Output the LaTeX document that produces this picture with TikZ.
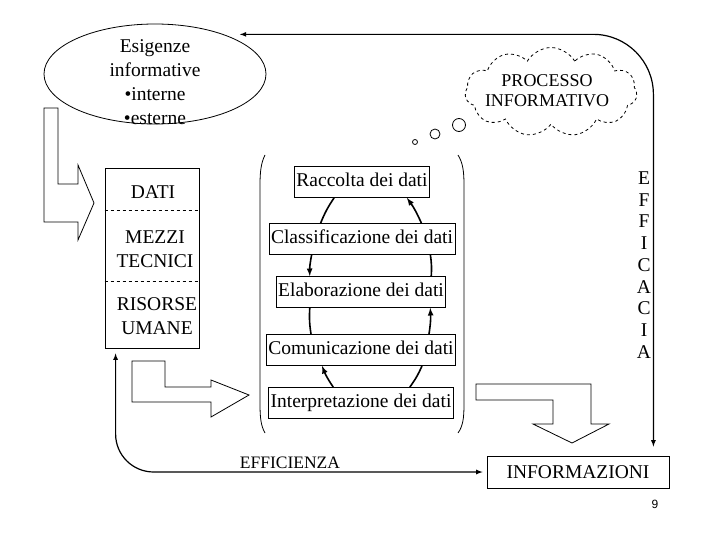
\documentclass[tikz,border=0pt]{standalone}
\usepackage{fontspec}
\setmainfont{Liberation Serif}
\newfontfamily\pagefont{Liberation Sans}
\usetikzlibrary{arrows,shapes.geometric,shapes.symbols}

\begin{document}
\begin{tikzpicture}[x=1pt,y=-1pt,line width=0.8pt,
  stagebox/.style={draw,inner xsep=2pt,inner ysep=0pt,text height=14pt,text depth=4.5pt,minimum height=31pt,font=\fontsize{19.5}{23}\selectfont},
  big/.style={align=center,font=\fontsize{19.5}{24}\selectfont},
  hollow/.style={draw,line join=miter},
  flow/.style={line width=1.6pt}]
  \useasboundingbox (0,0) rectangle (720,540);
  % esigenze e processo
  \node[draw,ellipse,minimum width=222pt,minimum height=100pt] (need) at (155,74) {};
  \node[big] (needtxt) at (155,82) {Esigenze\\informative\\\textbullet interne\\\textbullet esterne};
  \node[draw,dashed,cloud,cloud puffs=11,cloud puff arc=120,aspect=1.9,minimum width=172pt,minimum height=89pt] (cloud) at (551,92) {};
  \node[align=center,font=\fontsize{18}{20}\selectfont] (proc) at (547,91) {PROCESSO\\INFORMATIVO};
  \draw (459,125) circle[radius=6.5pt];
  \draw (435,134) circle[radius=5pt];
  \draw (415,142) circle[radius=2.5pt];
  % risorse
  \node[draw,minimum width=94pt,minimum height=180pt] (res) at (152,258) {};
  \draw[dashed] ([yshift=-43pt]res.north west) -- ([yshift=-43pt]res.north east);
  \draw[dashed] ([yshift=-114pt]res.north west) -- ([yshift=-114pt]res.north east);
  \node[big] (dati) at (153,192) {DATI};
  \node[big] (mezzi) at (155,249) {MEZZI\\TECNICI};
  \node[big] (risorse) at (157,316) {RISORSE\\UMANE};
  % fasi
  \node[stagebox] (racc) at (362,182) {Raccolta dei dati};
  \node[stagebox] (class) at (362,239) {Classificazione dei dati};
  \node[stagebox] (elab) at (361,292) {Elaborazione dei dati};
  \node[stagebox] (comm) at (361,350) {Comunicazione dei dati};
  \node[stagebox] (interp) at (361,403) {Interpretazione dei dati};
  \draw (265,155) .. controls (261,163) and (260,172) .. (260,185) -- (260,404) .. controls (260,418) and (261,426) .. (265,433);
  \draw (458,155) .. controls (463,163) and (464,172) .. (464,185) -- (464,404) .. controls (464,418) and (463,426) .. (458,433);
  \draw[flow] ([xshift=40pt]racc.south west) to[bend right=6] ([xshift=52pt]class.north west);
  \draw[flow,-latex] ([xshift=43pt]class.south west) to[bend right=6] ([xshift=34pt]elab.north west);
  \draw[flow] ([xshift=34pt]elab.south west) to[bend right=6] ([xshift=45pt]comm.north west);
  \draw[flow,-latex] ([xshift=65pt]interp.north west) to[bend left=6] ([xshift=56pt]comm.south west);
  \draw[flow] ([xshift=-44pt]interp.north east) to[bend right=6] ([xshift=-34pt]comm.south east);
  \draw[flow,-latex] ([xshift=-27pt]comm.north east) to[bend right=6] ([xshift=-16pt]elab.south east);
  \draw[flow] ([xshift=-15pt]elab.north east) to[bend right=6] ([xshift=-25pt]class.south east);
  \draw[flow,-latex] ([xshift=-34pt]class.north east) to[bend right=6] ([xshift=-23pt]racc.south east);
  % frecce vuote
  \draw[hollow] (44,108) -- (58,108) -- (58,184) -- (78,184) -- (78,165) -- (94,203) -- (78,240) -- (78,222) -- (44,222) -- cycle;
  \draw[hollow] (132,361) -- (165,361) -- (165,387) -- (211,387) -- (211,380) -- (249,395) -- (211,417) -- (211,402) -- (132,402) -- cycle;
  \draw[hollow] (476,384) -- (591,384) -- (591,424) -- (609,424) -- (572,443) -- (533,424) -- (553,424) -- (553,400) -- (476,400) -- cycle;
  % informazioni
  \node[draw,minimum width=182pt,minimum height=32pt,font=\fontsize{19.5}{23}\selectfont] (info) at (578,472) {INFORMAZIONI};
  \node[align=center,font=\fontsize{19.5}{21.7}\selectfont] (effic) at (644,265) {E\\F\\F\\I\\C\\A\\C\\I\\A};
  \node[font=\fontsize{17.5}{20}\selectfont] (eff) at (290,463) {EFFICIENZA};
  \draw[latex-latex,line width=1.2pt,rounded corners=60pt] ([shift={(6pt,4pt)}]need.north east) -| ([xshift=-16pt,yshift=9pt]info.north east);
  \draw[latex-latex,line width=1.2pt,rounded corners=38pt] ([xshift=11pt,yshift=-5pt]res.south west) |- ([xshift=-4pt]info.west);
  \node[font=\pagefont\fontsize{12}{14}\selectfont] (pg) at (655,504) {9};
\end{tikzpicture}
\end{document}
